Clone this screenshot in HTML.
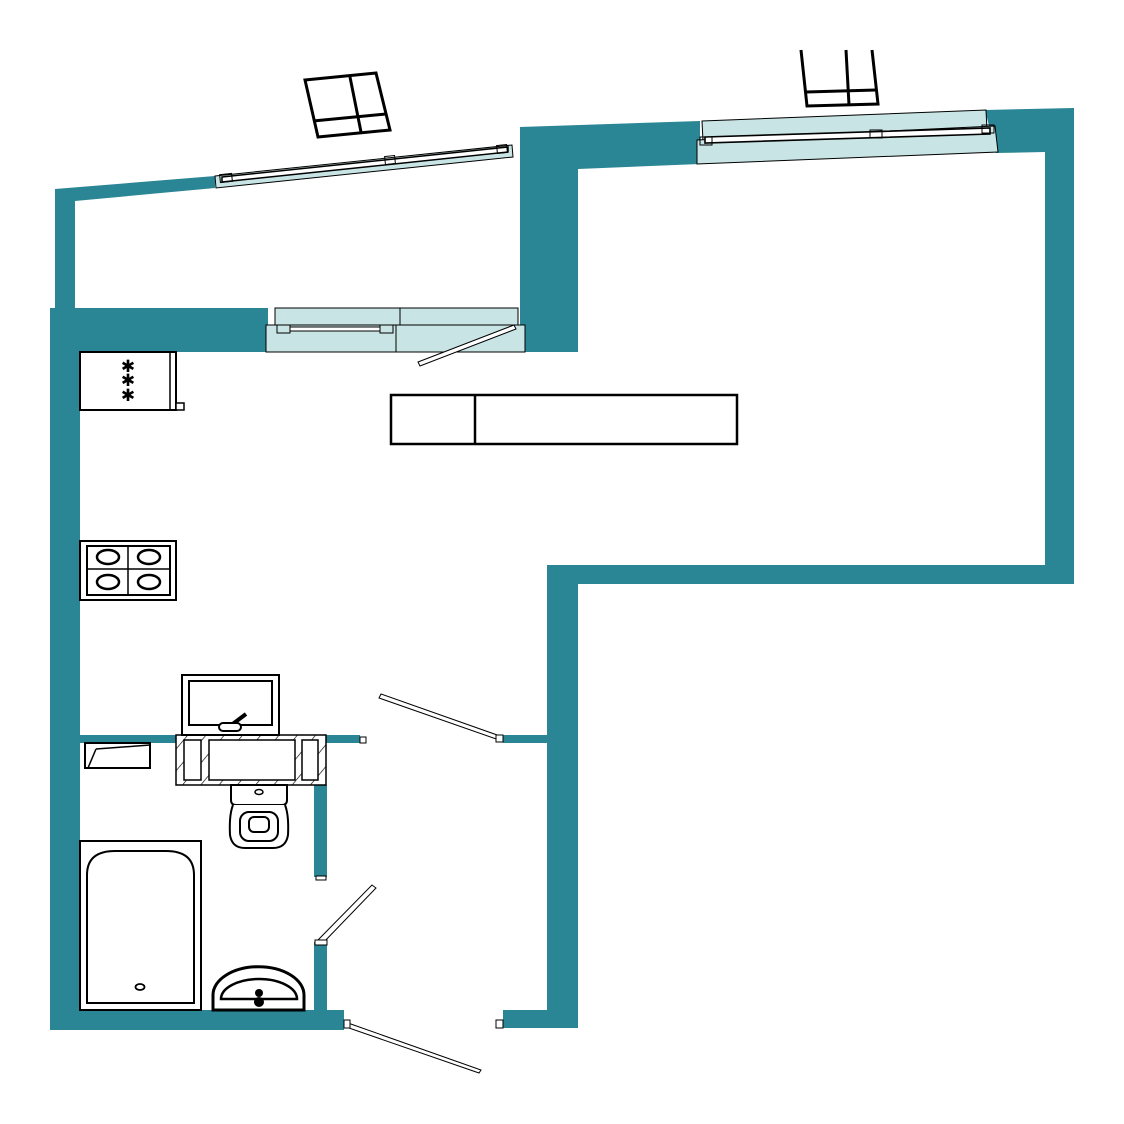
<!DOCTYPE html>
<html><head><meta charset="utf-8"><style>html,body{margin:0;padding:0;background:#fff}svg{display:block}</style></head>
<body>
<svg width="1124" height="1124" viewBox="0 0 1124 1124" xmlns="http://www.w3.org/2000/svg">
<defs>
<pattern id="h" width="14" height="14" patternUnits="userSpaceOnUse" patternTransform="rotate(40)"><line x1="0" y1="0" x2="0" y2="14" stroke="#000" stroke-width="1.3"/></pattern>
</defs>
<g fill="#2a8595">
<polygon points="55,189 215,176 215,188 75,201 75,310 55,310"/>
<polygon points="520,127 700,121 700,164 578,169 578,352 520,352"/>
<polygon points="985,110 1074,108 1074,584 1045,584 1045,152 996,153"/>
<rect x="50" y="308" width="218" height="44"/>
<rect x="50" y="308" width="30" height="722"/>
<rect x="547" y="565" width="527" height="19"/>
<rect x="547" y="565" width="31" height="463"/>
<rect x="80" y="735" width="96" height="8"/>
<rect x="326" y="735" width="34" height="8"/>
<rect x="503" y="735" width="44" height="8"/>
<rect x="314" y="785" width="13" height="92"/>
<rect x="314" y="942" width="13" height="70"/>
<rect x="50" y="1010" width="294" height="20"/>
<rect x="503" y="1010" width="74" height="18"/>
</g>
<polygon points="215,176 512,145 513,157 216,188" fill="#c8e4e4" stroke="#000" stroke-width="1"/>
<polygon points="222,177 508,147 508,152 222,182" fill="#fff" stroke="#000" stroke-width="1.5"/>
<rect x="385" y="156" width="10" height="8" fill="none" stroke="#000" transform="rotate(-6 390 160)"/>
<rect x="220" y="174" width="12" height="8" fill="none" stroke="#000" transform="rotate(-6 226 178)"/>
<rect x="497" y="145" width="10" height="8" fill="none" stroke="#000" transform="rotate(-6 502 149)"/>
<polygon points="702,121 986,110 987,130 703,141" fill="#c8e4e4" stroke="#000" stroke-width="1"/>
<polygon points="697,140 995,126 998,152 697,164" fill="#c8e4e4" stroke="#000" stroke-width="1"/>
<polygon points="705,137 990,128 990,134 705,143" fill="#fff" stroke="#000" stroke-width="1.6"/>
<rect x="870" y="130" width="12" height="8" fill="none" stroke="#000"/>
<rect x="700" y="137" width="12" height="8" fill="none" stroke="#000"/>
<rect x="982" y="125" width="12" height="8" fill="none" stroke="#000"/>
<rect x="275" y="308" width="243" height="17" fill="#c8e4e4" stroke="#000" stroke-width="1"/>
<line x1="400" y1="308" x2="400" y2="325" stroke="#000"/>
<rect x="266" y="325" width="259" height="27" fill="#c8e4e4" stroke="#000" stroke-width="1"/>
<line x1="396" y1="325" x2="396" y2="352" stroke="#000"/>
<rect x="280" y="327" width="112" height="4" fill="#fff" stroke="#000" stroke-width="1"/>
<rect x="277" y="325" width="13" height="8" fill="#c8e4e4" stroke="#000"/>
<rect x="380" y="325" width="13" height="8" fill="#c8e4e4" stroke="#000"/>
<polygon points="418,362 514,325 516,329 420,366" fill="#fff" stroke="#000" stroke-width="1"/>
<g fill="none" stroke="#000" stroke-width="3">
<polygon points="305,80 376,73 390,130 318,137"/>
<line x1="313" y1="121" x2="386" y2="114"/>
<line x1="350" y1="77" x2="361" y2="132"/>
<polyline points="801,50 807,106 878,104 872,50"/>
<line x1="806" y1="92" x2="876" y2="90"/>
<line x1="846" y1="50" x2="849" y2="105"/>
</g>
<rect x="80" y="352" width="96" height="58" fill="#fff" stroke="#000" stroke-width="2"/>
<line x1="170" y1="352" x2="170" y2="410" stroke="#000" stroke-width="1.5"/>
<rect x="176" y="403" width="8" height="7" fill="#fff" stroke="#000" stroke-width="1.5"/>
<g font-family="DejaVu Sans, sans-serif" font-size="17" text-anchor="middle">
<text x="128" y="372">✱</text><text x="128" y="386">✱</text><text x="128" y="401">✱</text>
</g>
<rect x="391" y="395" width="346" height="49" fill="#fff" stroke="#000" stroke-width="2.5"/>
<line x1="475" y1="395" x2="475" y2="444" stroke="#000" stroke-width="2.5"/>
<rect x="80" y="541" width="96" height="59" fill="#fff" stroke="#000" stroke-width="2"/>
<rect x="87" y="546" width="83" height="49" fill="none" stroke="#000" stroke-width="2"/>
<line x1="128" y1="546" x2="128" y2="595" stroke="#000" stroke-width="1.5"/>
<line x1="87" y1="569" x2="170" y2="569" stroke="#000" stroke-width="1.5"/>
<g fill="none" stroke="#000" stroke-width="2.5">
<ellipse cx="108" cy="557" rx="11" ry="7"/><ellipse cx="149" cy="557" rx="11" ry="7"/>
<ellipse cx="108" cy="582" rx="11" ry="7"/><ellipse cx="149" cy="582" rx="11" ry="7"/>
</g>
<rect x="182" y="675" width="97" height="60" fill="#fff" stroke="#000" stroke-width="2"/>
<rect x="189" y="681" width="83" height="44" fill="none" stroke="#000" stroke-width="2"/>
<line x1="230" y1="726" x2="246" y2="714" stroke="#000" stroke-width="4"/>
<rect x="219" y="723" width="22" height="8" rx="4" fill="#fff" stroke="#000" stroke-width="2"/>
<rect x="176" y="735" width="150" height="50" fill="url(#h)" stroke="#000" stroke-width="1.5"/>
<rect x="184" y="740" width="17" height="40" fill="#fff" stroke="#000" stroke-width="1.5"/>
<rect x="209" y="740" width="86" height="40" fill="#fff" stroke="#000" stroke-width="1.5"/>
<rect x="302" y="740" width="16" height="40" fill="#fff" stroke="#000" stroke-width="1.5"/>
<polygon points="85,743 150,743 150,768 85,768" fill="#fff" stroke="#000" stroke-width="2"/>
<line x1="96" y1="749" x2="88" y2="768" stroke="#000" stroke-width="1.5"/>
<line x1="96" y1="749" x2="150" y2="745" stroke="#000" stroke-width="1.5"/>
<path d="M231,785 h56 v15 q0,5 -5,5 h-46 q-5,0 -5,-5 z" fill="#fff" stroke="#000" stroke-width="2"/>
<ellipse cx="259" cy="792" rx="4" ry="2.5" fill="none" stroke="#000" stroke-width="1.5"/>
<path d="M233,805 q-4,10 -3,30 q2,13 15,13 h28 q13,0 15,-13 q1,-20 -3,-30" fill="#fff" stroke="#000" stroke-width="2"/>
<rect x="240" y="812" width="38" height="29" rx="9" fill="none" stroke="#000" stroke-width="2"/>
<rect x="249" y="817" width="20" height="15" rx="5" fill="none" stroke="#000" stroke-width="2"/>
<rect x="80" y="841" width="121" height="169" fill="#fff" stroke="#000" stroke-width="2"/>
<path d="M87,1003 V875 q0,-24 28,-24 h51 q28,0 28,24 V1003 z" fill="none" stroke="#000" stroke-width="2"/>
<ellipse cx="140" cy="987" rx="4.5" ry="3" fill="none" stroke="#000" stroke-width="1.8"/>
<path d="M213,1010 V995 a45,28 0 0 1 91,0 V1010 z" fill="#fff" stroke="#000" stroke-width="3"/>
<path d="M221,999 a38,20 0 0 1 76,0 z" fill="none" stroke="#000" stroke-width="2.5"/>
<circle cx="259" cy="993" r="4" fill="#000"/><circle cx="259" cy="1002" r="5" fill="#000"/>
<g fill="#fff" stroke="#000" stroke-width="1">
<polygon points="381,694 500,736 499,740 379,698"/>
<rect x="496" y="735" width="7" height="7"/>
<rect x="360" y="737" width="6" height="6"/>
<polygon points="318,940 372,885 376,888 322,944"/>
<rect x="315" y="940" width="12" height="5"/>
<rect x="316" y="876" width="10" height="4"/>
<polygon points="348,1023 481,1070 479,1073 346,1027"/>
<rect x="344" y="1020" width="6" height="8"/>
<rect x="496" y="1020" width="7" height="8"/>
</g>
</svg>
</body></html>
